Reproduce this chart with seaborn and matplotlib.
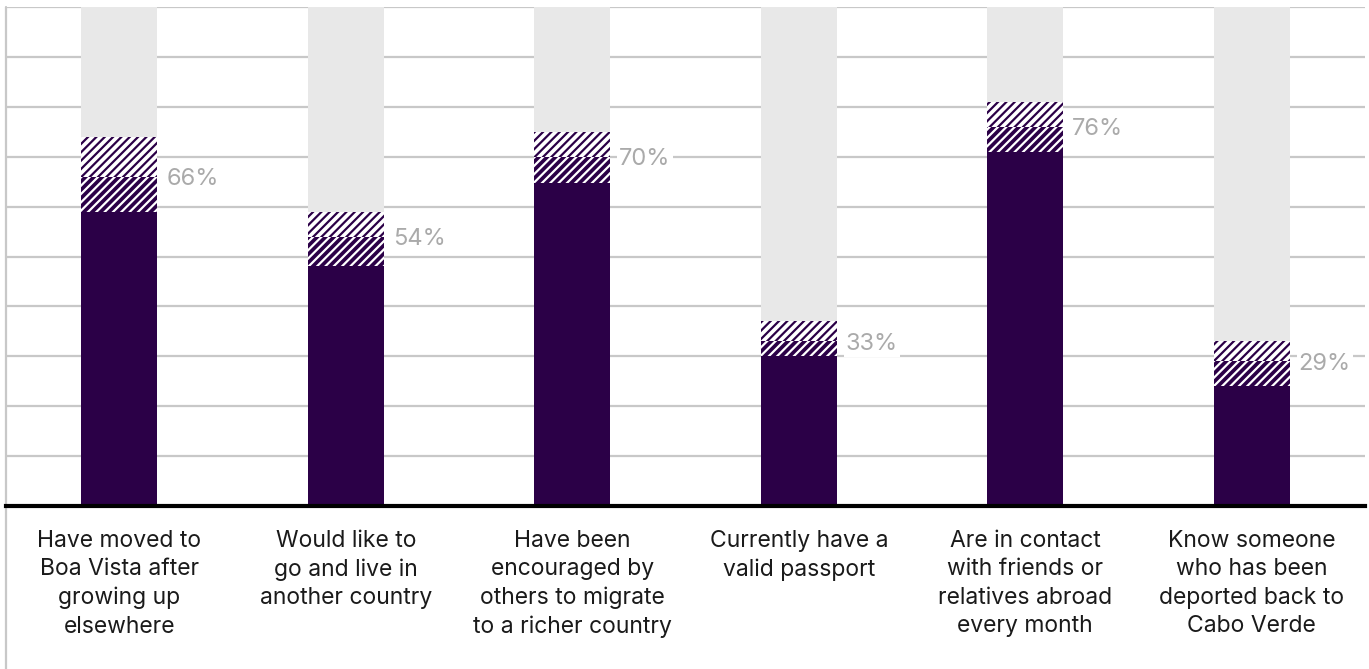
import matplotlib
matplotlib.use("Agg")
import matplotlib.pyplot as plt
import seaborn as sns
import pandas as pd

categories = [
    "Have moved to\nBoa Vista after\ngrowing up\nelsewhere",
    "Would like to\ngo and live in\nanother country",
    "Have been\nencouraged by\nothers to migrate\nto a richer country",
    "Currently have a\nvalid passport",
    "Are in contact\nwith friends or\nrelatives abroad\nevery month",
    "Know someone\nwho has been\ndeported back to\nCabo Verde",
]
values = [66, 54, 70, 33, 76, 29]
lower = [59, 48, 64.7, 30, 71, 24]
upper = [74, 59, 75, 37, 81, 33]
value_labels = ["66%", "54%", "70%", "33%", "76%", "29%"]
total = [100] * 6

PURPLE = "#2b0047"
GREY = "#e8e8e8"

sns.set_theme(style="white")
plt.rcParams["font.family"] = ["Inter", "DejaVu Sans"]
plt.rcParams["hatch.linewidth"] = 1.6

df = pd.DataFrame({"cat": categories, "value": values, "lower": lower,
                   "upper": upper, "total": total})

fig = plt.figure(figsize=(13.69, 6.69), dpi=100)
ax = fig.add_axes([6 / 1369, 1 - 506 / 669, (1365 - 6) / 1369, (506 - 7) / 669])

W = 0.335
layers = [
    ("total", dict(facecolor=GREY, edgecolor=GREY, hatch=None)),
    ("upper", dict(facecolor="white", edgecolor=PURPLE, hatch="////")),
    ("value", dict(facecolor=PURPLE, edgecolor="white", hatch="////")),
    ("lower", dict(facecolor=PURPLE, edgecolor=PURPLE, hatch=None)),
]
for col, st in layers:
    n0 = len(ax.patches)
    sns.barplot(data=df, x="cat", y=col, ax=ax, width=W, errorbar=None,
                color=st["facecolor"], saturation=1, zorder=2)
    for p in ax.patches[n0:]:
        p.set_facecolor(st["facecolor"])
        p.set_edgecolor(st["edgecolor"])
        p.set_linewidth(0)
        if st["hatch"]:
            p.set_hatch(st["hatch"])

ax.set_ylim(0, 100)
ax.set_xlim(-0.5, 5.5)
ax.set_yticks(range(0, 101, 10))
ax.set_yticklabels([])
ax.tick_params(axis="y", length=0)
ax.tick_params(axis="x", length=0, pad=17)
ax.set_xlabel("")
ax.set_ylabel("")
ax.yaxis.grid(True, color="#c8c8c8", linewidth=1.6, zorder=0)
ax.set_axisbelow(True)
for lbl in ax.get_xticklabels():
    lbl.set_fontsize(16.5)
    lbl.set_color("#1a1a1a")
    lbl.set_linespacing(1.38)
    lbl.set_verticalalignment("top")

for s in ["top", "right", "left"]:
    ax.spines[s].set_visible(False)
ax.spines["bottom"].set_color("black")
ax.spines["bottom"].set_linewidth(3)
ax.spines["bottom"].set_zorder(5)

# left border extending to bottom of figure
ax.plot([0, 0], [-0.35, 1], transform=ax.transAxes, color="#c8c8c8",
        linewidth=1.6, clip_on=False, zorder=1)

for i, (v, t) in enumerate(zip(values, value_labels)):
    ax.text(i + W / 2 + 0.04, v, t, ha="left", va="center_baseline",
            fontsize=17, color="#aaaaaa", zorder=4,
            bbox=dict(facecolor="white", edgecolor="none", pad=1.5))

fig.savefig("out.png", dpi=100)
